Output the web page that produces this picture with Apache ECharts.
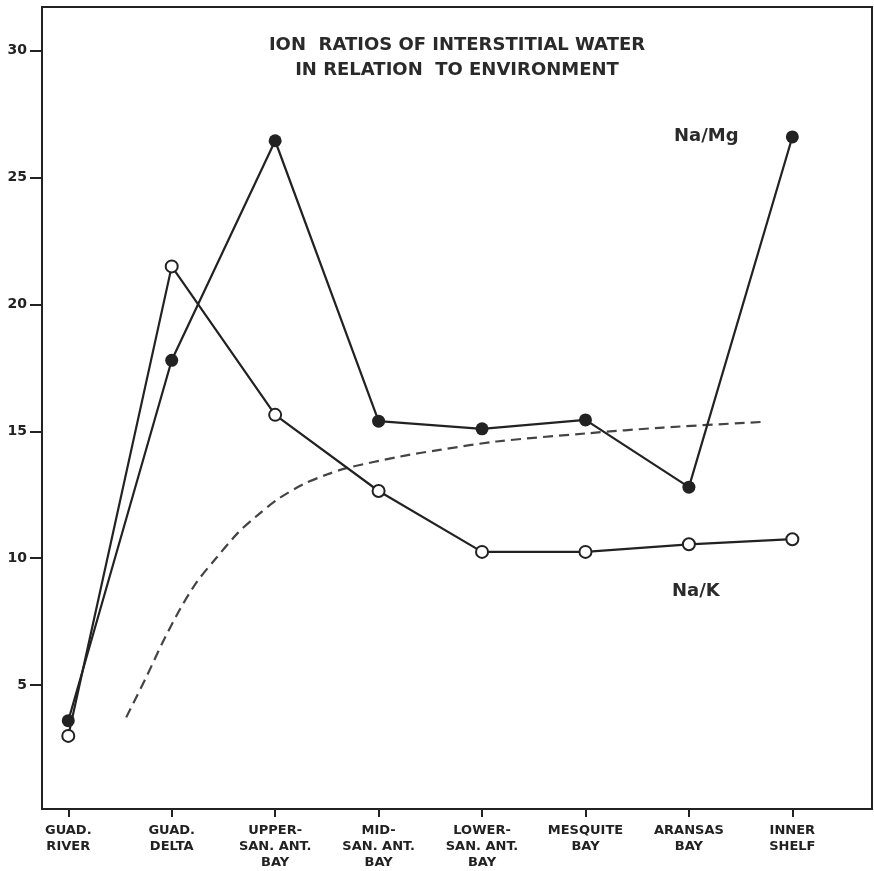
<!DOCTYPE html>
<html>
<head>
<meta charset="utf-8">
<script src="https://cdn.jsdelivr.net/npm/echarts@6/dist/echarts.min.js"></script>
<style>
html,body{margin:0;padding:0;background:#fff;}
#c{width:874px;height:871px;}
</style>
</head>
<body>
<div id="c"></div>
<script>
// Categories (environments along the x axis)
const categories = [
  "GUAD.\nRIVER", "GUAD.\nDELTA", "UPPER-\nSAN. ANT.\nBAY", "MID-\nSAN. ANT.\nBAY",
  "LOWER-\nSAN. ANT.\nBAY", "MESQUITE\nBAY", "ARANSAS\nBAY", "INNER\nSHELF"
];
// Na/Mg ratio (filled circles)
const naMg = [3.6, 17.8, 26.45, 15.4, 15.1, 15.45, 12.8, 26.6];
// Na/K ratio (open circles)
const naK = [3.0, 21.5, 15.65, 12.65, 10.25, 10.25, 10.55, 10.75];
// Dashed reference curve: [category position, ratio]
const curveX = [0.56, 0.76, 0.92, 1.08, 1.24, 1.42, 1.64, 1.82, 2.02, 2.27, 2.50, 2.69, 3.21, 3.59, 4.14, 5.01, 5.75, 6.75];
const curveY = [3.73, 5.37, 6.75, 7.99, 9.05, 9.96, 11.0, 11.66, 12.31, 12.91, 13.30, 13.55, 14.01, 14.27, 14.6, 14.92, 15.15, 15.38];
// Y tick labels
const yTicks = [5, 10, 15, 20, 25, 30];

const ink = '#222';
const font = 'DejaVu Sans';

const chart = echarts.init(document.getElementById('c'), null, {renderer: 'canvas'});
const idx = categories.map((_, i) => i);

chart.setOption({
  animation: false,
  backgroundColor: '#fff',
  grid: {
    left: 42, right: 2, top: 7, bottom: 61,
    show: true, borderColor: ink, borderWidth: 2, backgroundColor: 'transparent'
  },
  xAxis: {
    type: 'value',
    min: -0.254, max: 7.77,
    axisLine: {show: true, onZero: false, lineStyle: {color: ink, width: 2}},
    splitLine: {show: false},
    axisTick: {show: true, customValues: idx, length: 8, lineStyle: {color: ink, width: 2}},
    axisLabel: {
      customValues: idx,
      formatter: v => categories[Math.round(v)] || '',
      color: ink, fontFamily: font, fontWeight: 'bold', fontSize: 13,
      lineHeight: 16, margin: 14, align: 'center', verticalAlign: 'top'
    }
  },
  yAxis: {
    type: 'value',
    min: 0.12, max: 31.72,
    axisLine: {show: true, onZero: false, lineStyle: {color: ink, width: 2}},
    splitLine: {show: false},
    axisTick: {show: true, customValues: yTicks, length: 12, lineStyle: {color: ink, width: 2}},
    axisLabel: {
      customValues: yTicks,
      color: ink, fontFamily: font, fontWeight: 'bold', fontSize: 14, margin: 15
    }
  },
  graphic: [
    {type: 'text', x: 457, y: 33, style: {
      text: 'ION  RATIOS OF INTERSTITIAL WATER\nIN RELATION  TO ENVIRONMENT',
      fontFamily: font, fontSize: 18, fontWeight: 'bold', fill: '#2a2a2a',
      align: 'center', lineHeight: 25
    }},
    {type: 'text', x: 674, y: 127, style: {text: 'Na/Mg', fontFamily: font, fontSize: 18, fontWeight: 'bold', fill: '#2a2a2a'}},
    {type: 'text', x: 672, y: 582, style: {text: 'Na/K', fontFamily: font, fontSize: 18, fontWeight: 'bold', fill: '#2a2a2a'}}
  ],
  series: [
    {
      name: 'curve', type: 'line', smooth: 0.3, symbol: 'none',
      data: curveX.map((x, i) => [x, curveY[i]]),
      lineStyle: {color: '#444', width: 2.2, type: [10, 6]}, z: 1
    },
    {
      name: 'Na/K', type: 'line', symbol: 'circle', symbolSize: 12,
      data: idx.map(i => [i, naK[i]]),
      lineStyle: {color: ink, width: 2.2},
      itemStyle: {color: '#fff', borderColor: ink, borderWidth: 2}, z: 3
    },
    {
      name: 'Na/Mg', type: 'line', symbol: 'circle', symbolSize: 13,
      data: idx.map(i => [i, naMg[i]]),
      lineStyle: {color: ink, width: 2.2},
      itemStyle: {color: ink, borderColor: ink, borderWidth: 0}, z: 4
    }
  ]
});
</script>
</body>
</html>
